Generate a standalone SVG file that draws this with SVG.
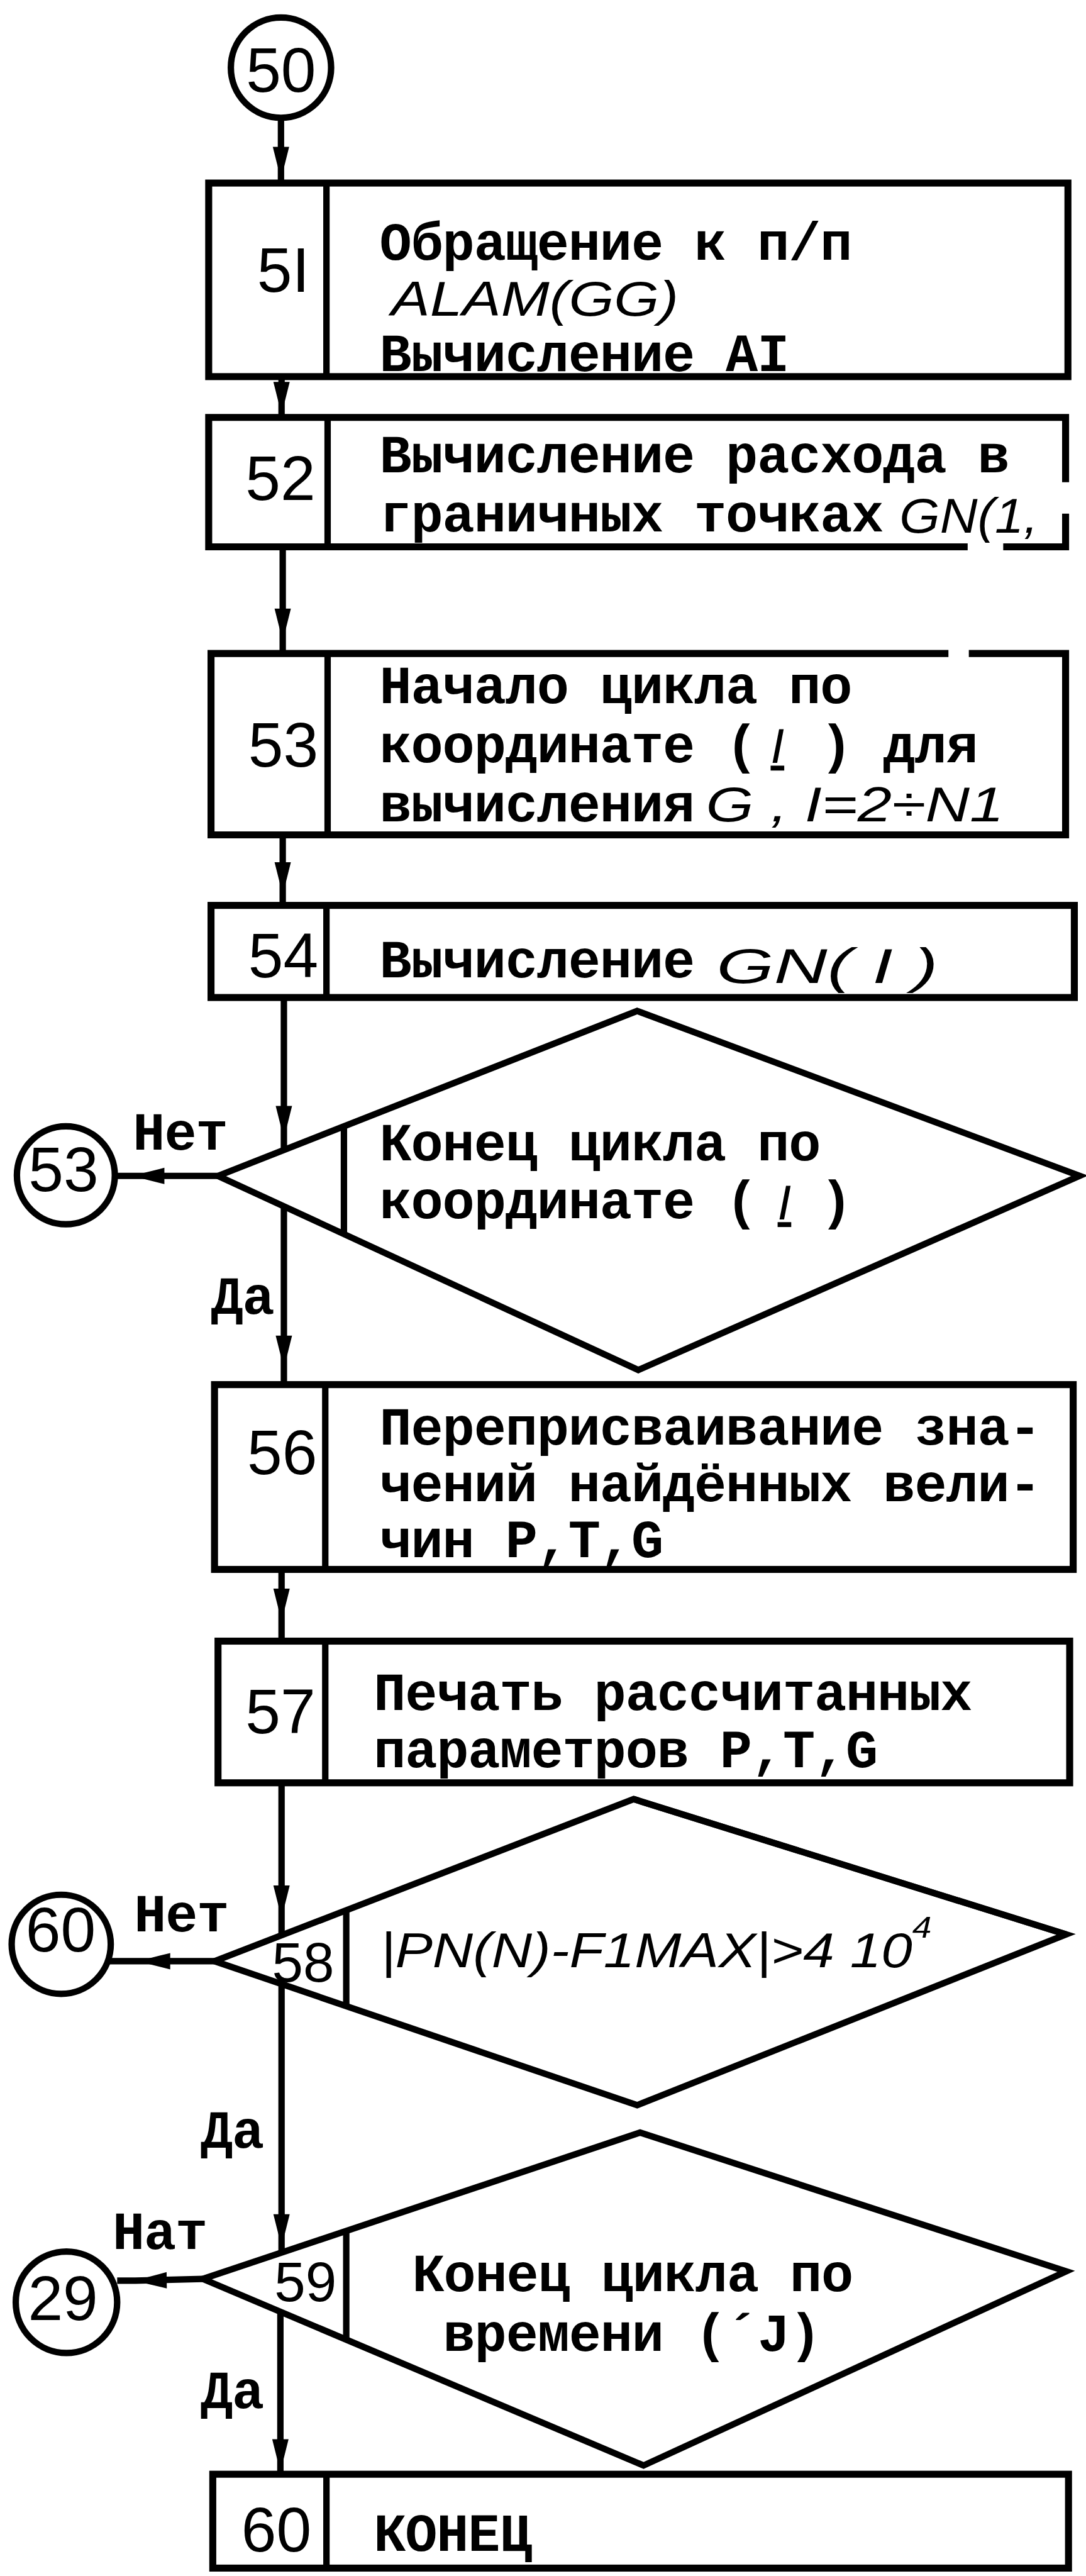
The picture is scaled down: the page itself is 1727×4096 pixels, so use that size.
<svg xmlns="http://www.w3.org/2000/svg" width="1727" height="4096" viewBox="0 0 1727 4096">
<style>
.box{fill:none;stroke:#000;stroke-width:12}
.dia{fill:none;stroke:#000;stroke-width:11;stroke-linejoin:miter}
.dv{fill:none;stroke:#000;stroke-width:11}
.conn{fill:none;stroke:#000;stroke-width:11}
.circ{fill:none;stroke:#000;stroke-width:11}
.tw{font-family:"Liberation Mono","DejaVu Sans Mono",monospace;font-weight:bold;font-size:92px;letter-spacing:-1.2px;fill:#000}
.num{font-family:"Liberation Sans",Arial,sans-serif;font-size:108px;fill:#000;text-anchor:middle}
.sm{font-size:96px}
.hw{font-family:"Liberation Sans",Arial,sans-serif;font-style:italic;font-weight:normal;font-size:84px;fill:#000}
</style>
<defs>
<marker id="ah" markerUnits="userSpaceOnUse" viewBox="-56 -16 60 32" markerWidth="60" markerHeight="32" refX="0" refY="0" orient="auto">
<path d="M2,0 L-54,-14 L-54,14 Z" fill="#000"/>
</marker>
</defs>
<rect x="0" y="0" width="1727" height="4096" fill="#fff"/>
<g transform="scale(0.927)">

<g id="connectors">
<path class="conn" marker-mid="url(#ah)" d="M482,202 L482,306 L482,314"/>
<path class="conn" marker-mid="url(#ah)" d="M483,646 L483,709 L483,716"/>
<path class="conn" marker-mid="url(#ah)" d="M485,938 L485,1098 L485,1121"/>
<path class="conn" marker-mid="url(#ah)" d="M485,1432 L485,1533 L485,1553"/>
<path class="conn" marker-mid="url(#ah)" d="M487,1711 L487,1951 L487,1973"/>
<path class="conn" marker-mid="url(#ah)" d="M487,2069 L487,2345 L487,2375"/>
<path class="conn" marker-mid="url(#ah)" d="M374,2017 L228,2017 L196,2017"/>
<path class="conn" marker-mid="url(#ah)" d="M483,2692 L483,2779 L483,2815"/>
<path class="conn" marker-mid="url(#ah)" d="M483,3058 L483,3288 L483,3320"/>
<path class="conn" marker-mid="url(#ah)" d="M483,3403 L483,3852 L483,3864"/>
<path class="conn" marker-mid="url(#ah)" d="M368,3364 L238,3364 L188,3364"/>
<path class="conn" marker-mid="url(#ah)" d="M481,3965 L481,4238 L481,4248"/>
<path class="conn" marker-mid="url(#ah)" d="M348,3909 L232,3912 L201,3912"/>
<text class="tw" x="228" y="1972">Нет</text>
<text class="tw" x="362" y="2253">Да</text>
<text class="tw" x="230" y="3313">Нет</text>
<text class="tw" x="344" y="3684">Да</text>
<text class="tw" x="193" y="3858">Нат</text>
<text class="tw" x="344" y="4130">Да</text>
</g>

<g id="c50">
<circle class="circ" cx="482" cy="116" r="86"/>
<text class="num" x="482" y="157">50</text>
</g>

<g id="n51">
<rect class="box" x="358" y="314" width="1474" height="332"/>
<line class="dv" x1="560" y1="314" x2="560" y2="646"/>
<text class="num" x="486" y="501">5I</text>
<text class="tw" x="651" y="446">Обращение к п/п</text>
<text class="hw" x="671" y="542" font-size="72" textLength="493" lengthAdjust="spacingAndGlyphs">ALAM(GG)</text>
<text class="tw" x="651" y="637">Вычисление AI</text>
</g>

<g id="n52">
<path class="box" d="M1660,938 H358 V716 H1828 V827 M1828,881 V938 H1721"/>
<line class="dv" x1="562" y1="716" x2="562" y2="938"/>
<text class="num" x="481" y="858">52</text>
<text class="tw" x="651" y="810">Вычисление расхода в</text>
<text class="tw" x="651" y="912">граничных точках</text>
<text class="hw" x="1543" y="914" textLength="238" lengthAdjust="spacingAndGlyphs">GN(1,</text>
</g>

<g id="n53">
<path class="box" d="M1627,1121 H362 V1432 H1828 V1121 H1662"/>
<line class="dv" x1="562" y1="1121" x2="562" y2="1432"/>
<text class="num" x="486" y="1315">53</text>
<text class="tw" x="651" y="1206">Начало цикла по</text>
<text class="tw" x="651" y="1307">координате (</text>
<text class="hw" x="1322" y="1309" font-size="76" text-decoration="underline">I</text>
<text class="tw" x="1407" y="1307">) для</text>
<text class="tw" x="651" y="1409">вычисления</text>
<text class="hw" x="1211" y="1409" font-size="80" textLength="511" lengthAdjust="spacingAndGlyphs">G , I=2÷N1</text>
</g>

<g id="n54">
<rect class="box" x="362" y="1553" width="1481" height="158"/>
<line class="dv" x1="560" y1="1553" x2="560" y2="1711"/>
<text class="num" x="486" y="1676">54</text>
<text class="tw" x="651" y="1676">Вычисление</text>
<text class="hw" x="1229" y="1686" font-size="92" textLength="380" lengthAdjust="spacingAndGlyphs">GN( I )</text>
</g>

<g id="n55">
<polygon class="dia" points="1093,1734 1852,2017 1095,2350 374,2017"/>
<line class="dv" x1="590" y1="1932" x2="590" y2="2117"/>
<text class="tw" x="651" y="1990">Конец цикла по</text>
<text class="tw" x="651" y="2090">координате (</text>
<text class="hw" x="1334" y="2092" font-size="76" text-decoration="underline">I</text>
<text class="tw" x="1407" y="2090">)</text>
</g>

<g id="c53">
<circle class="circ" cx="113" cy="2016" r="84"/>
<text class="num" x="109" y="2043">53</text>
</g>

<g id="n56">
<rect class="box" x="368" y="2375" width="1473" height="317"/>
<line class="dv" x1="558" y1="2375" x2="558" y2="2692"/>
<text class="num" x="484" y="2529">56</text>
<text class="tw" x="651" y="2478">Переприсваивание зна-</text>
<text class="tw" x="651" y="2575">чений найдённых вели-</text>
<text class="tw" x="651" y="2671">чин P,T,G</text>
</g>

<g id="n57">
<rect class="box" x="374" y="2815" width="1461" height="243"/>
<line class="dv" x1="558" y1="2815" x2="558" y2="3058"/>
<text class="num" x="481" y="2973">57</text>
<text class="tw" x="641" y="2933">Печать рассчитанных</text>
<text class="tw" x="641" y="3031">параметров P,T,G</text>
</g>

<g id="n58">
<polygon class="dia" points="1087,3086 1829,3318 1093,3611 368,3364"/>
<line class="dv" x1="1087" y1="3086" x2="1829" y2="3318" stroke-width="18"/>
<line class="dv" x1="594" y1="3277" x2="594" y2="3441"/>
<text class="num sm" x="520" y="3399">58</text>
<text class="hw" x="653" y="3374" font-size="86" textLength="945" lengthAdjust="spacingAndGlyphs">|PN(N)-F1MAX|&gt;4 10<tspan font-size="52" dy="-50">4</tspan></text>
</g>

<g id="c60">
<circle class="circ" cx="105" cy="3335" r="85"/>
<text class="num" x="104" y="3347">60</text>
</g>

<g id="n59">
<polygon class="dia" points="1098,3658 1829,3896 1104,4229 348,3909"/>
<line class="dv" x1="594" y1="3827" x2="594" y2="4013"/>
<text class="num sm" x="524" y="3947">59</text>
<text class="tw" x="707" y="3930">Конец цикла по</text>
<text class="tw" x="760" y="4032">времени (´J)</text>
</g>

<g id="c29">
<circle class="circ" cx="114" cy="3949" r="87"/>
<text class="num" x="108" y="3979">29</text>
</g>

<g id="n60">
<rect class="box" x="365" y="4244" width="1468" height="161"/>
<line class="dv" x1="560" y1="4244" x2="560" y2="4405"/>
<text class="num" x="474" y="4376">60</text>
<text class="tw" x="641" y="4375">КОНЕЦ</text>
</g>

</g>
</svg>
